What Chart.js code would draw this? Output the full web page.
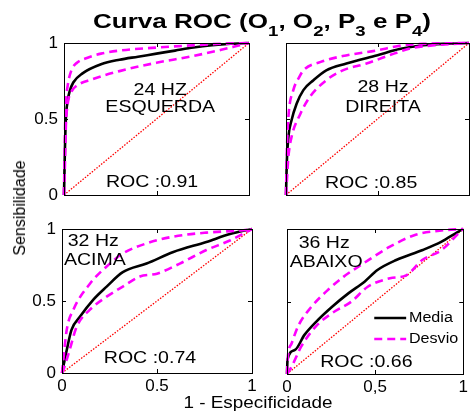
<!DOCTYPE html>
<html>
<head>
<meta charset="utf-8">
<script src="https://cdn.jsdelivr.net/npm/chart.js@4/dist/chart.umd.min.js"></script>
<style>
  body { margin: 0; background: #fff; width: 471px; height: 412px; position: relative; overflow: hidden;
         font-family: "Liberation Sans", Arial, sans-serif; color: #000; }
  canvas { position: absolute; left: 0; top: 0; }
  #titulo { position: absolute; left: 262px; top: 10px; line-height: 21px; font-size: 21px; font-weight: bold;
            white-space: nowrap; transform: translateX(-50%) scaleX(1.24); }
  #titulo sub { font-size: 15px; vertical-align: -8px; line-height: 0; }
  #eixoY { position: absolute; left: 20px; top: 208px; font-size: 16px; white-space: nowrap;
           transform: translate(-50%, -50%) rotate(-90deg); }
  #eixoX { position: absolute; left: 258px; top: 403px; font-size: 16px; white-space: nowrap;
           transform: translate(-50%, -50%) scaleX(1.18); }
</style>
</head>
<body>
<canvas id="g24" width="471" height="412"></canvas>
<canvas id="g28" width="471" height="412"></canvas>
<canvas id="g32" width="471" height="412"></canvas>
<canvas id="g36" width="471" height="412"></canvas>
<div id="titulo">Curva ROC (O<sub>1</sub>, O<sub>2</sub>, P<sub>3</sub> e P<sub>4</sub>)</div>
<div id="eixoY">Sensibilidade</div>
<div id="eixoX">1 - Especificidade</div>
<script>
// Curvas ROC: pares [1 - especificidade, sensibilidade]
const diagonal = [[0, 0], [1, 1]];
const ticksEixo = [0, 0.5, 1];
const auc = [0.91, 0.85, 0.74, 0.66];
const rotulos = [['24 HZ', 'ESQUERDA'], ['28 Hz', 'DIREITA'], ['32 Hz', 'ACIMA'], ['36 Hz', 'ABAIXO']];

// 24 Hz - esquerda
const media24 = [[0,0],[0.005,0.3],[0.01,0.5],[0.02,0.62],[0.03,0.68],[0.05,0.74],[0.1,0.8],[0.2,0.86],[0.3,0.89],[0.4,0.91],[0.5,0.93],[0.6,0.95],[0.7,0.97],[0.8,0.985],[0.9,0.995],[1,1]];
const sup24 = [[0,0],[0.005,0.4],[0.01,0.6],[0.02,0.72],[0.04,0.82],[0.07,0.87],[0.12,0.9],[0.2,0.93],[0.3,0.95],[0.5,0.97],[0.7,0.985],[0.85,0.995],[1,1]];
const inf24 = [[0,0],[0.005,0.2],[0.01,0.45],[0.02,0.6],[0.04,0.68],[0.07,0.72],[0.15,0.76],[0.3,0.815],[0.5,0.87],[0.7,0.915],[0.85,0.955],[0.95,0.985],[1,1]];

// 28 Hz - direita
const media28 = [[0,0],[0.004,0.2],[0.013,0.38],[0.03,0.49],[0.058,0.6],[0.095,0.69],[0.15,0.755],[0.22,0.82],[0.33,0.865],[0.5,0.92],[0.62,0.96],[0.75,0.985],[0.87,0.995],[1,1]];
const sup28 = [[0,0],[0.005,0.3],[0.013,0.51],[0.04,0.69],[0.07,0.77],[0.095,0.82],[0.19,0.876],[0.31,0.914],[0.49,0.95],[0.64,0.985],[0.77,0.995],[1,1]];
const inf28 = [[0,0],[0.005,0.1],[0.013,0.25],[0.03,0.38],[0.077,0.53],[0.13,0.645],[0.22,0.755],[0.31,0.82],[0.44,0.865],[0.59,0.93],[0.68,0.965],[0.81,0.985],[1,1]];

// 32 Hz - acima
const media32 = [[0,0],[0.025,0.16],[0.05,0.3],[0.094,0.39],[0.165,0.51],[0.235,0.6],[0.32,0.7],[0.445,0.76],[0.586,0.84],[0.76,0.91],[0.884,0.965],[1,1]];
const sup32 = [[0,0],[0.025,0.3],[0.06,0.44],[0.147,0.62],[0.235,0.74],[0.32,0.83],[0.445,0.9],[0.586,0.947],[0.76,0.975],[0.94,0.99],[1,1]];
const inf32 = [[0,0],[0.007,0.02],[0.04,0.16],[0.077,0.32],[0.147,0.44],[0.235,0.53],[0.32,0.6],[0.41,0.67],[0.5,0.69],[0.62,0.76],[0.76,0.854],[0.884,0.92],[1,1]];

// 36 Hz - abaixo
const media36 = [[0,0],[0.003,0.1],[0.044,0.165],[0.099,0.27],[0.165,0.36],[0.256,0.464],[0.348,0.556],[0.44,0.637],[0.513,0.717],[0.62,0.786],[0.77,0.855],[0.877,0.913],[0.97,0.98],[1,1]];
const sup36 = [[0,0],[0.005,0.12],[0.026,0.21],[0.063,0.33],[0.136,0.46],[0.228,0.575],[0.32,0.67],[0.43,0.76],[0.584,0.878],[0.73,0.96],[0.877,0.99],[1,1]];
const inf36 = [[0,0],[0.026,0.05],[0.081,0.19],[0.165,0.33],[0.256,0.42],[0.366,0.5],[0.456,0.6],[0.584,0.66],[0.676,0.68],[0.767,0.786],[0.877,0.855],[0.99,0.99],[1,1]];

const fonte = '"Liberation Sans", Arial, sans-serif';
const ponto = p => ({ x: p[0], y: p[1] });
const LARG_Y = 30, ALT_X = 24; // espaco reservado para os rotulos dos eixos

function escrever(ctx, t, px, py, align, size, sx) {
  ctx.save();
  ctx.translate(px, py);
  ctx.scale(sx, 1);
  ctx.font = size + 'px ' + fonte;
  ctx.fillStyle = '#000';
  ctx.textAlign = align;
  ctx.textBaseline = 'middle';
  ctx.fillText(t, 0, 0);
  ctx.restore();
}

// moldura estilo matlab + ticks internos + textos + legenda
const molduraPlugin = {
  id: 'moldura',
  afterDraw(chart, args, opts) {
    const ctx = chart.ctx;
    const a = chart.chartArea;
    const sx = chart.scales.x, sy = chart.scales.y;
    ctx.save();
    ctx.strokeStyle = '#000';
    ctx.lineWidth = 1;
    ctx.strokeRect(Math.round(a.left) + 0.5, Math.round(a.top) + 0.5, Math.round(a.right - a.left), Math.round(a.bottom - a.top));
    ctx.beginPath();
    sx.ticks.forEach(t => {
      const px = Math.round(sx.getPixelForValue(t.value)) + 0.5;
      ctx.moveTo(px, a.bottom); ctx.lineTo(px, a.bottom - 4);
      ctx.moveTo(px, a.top); ctx.lineTo(px, a.top + 4);
    });
    sy.ticks.forEach(t => {
      const py = Math.round(sy.getPixelForValue(t.value)) + 0.5;
      ctx.moveTo(a.left, py); ctx.lineTo(a.left + 4, py);
      ctx.moveTo(a.right, py); ctx.lineTo(a.right - 4, py);
    });
    ctx.stroke();
    ctx.restore();

    (opts.textos || []).forEach(o => {
      escrever(ctx, o.t, sx.getPixelForValue(o.x), sy.getPixelForValue(o.y), o.align || 'center', 17, 1.15);
    });

    const lg = opts.legenda;
    if (lg) {
      const ds = chart.data.datasets;
      [ds[2], ds[0]].forEach((d, i) => {
        const py = sy.getPixelForValue(lg.y[i]);
        ctx.save();
        ctx.strokeStyle = d.borderColor;
        ctx.lineWidth = d.borderWidth;
        ctx.setLineDash(d.borderDash || []);
        ctx.beginPath();
        ctx.moveTo(sx.getPixelForValue(lg.x0), py);
        ctx.lineTo(sx.getPixelForValue(lg.x1), py);
        ctx.stroke();
        ctx.restore();
        escrever(ctx, d.label, sx.getPixelForValue(lg.xt), py, 'left', 14, 1.15);
      });
    }
  }
};

function eixo(mostrar, virgula, ehX) {
  return {
    type: 'linear', min: 0, max: 1,
    afterBuildTicks: s => { s.ticks = ticksEixo.map(v => ({ value: v })); },
    ticks: {
      display: mostrar, padding: ehX ? 3 : 6, color: '#000', maxRotation: 0, autoSkip: false,
      font: { size: 17, family: fonte },
      callback: v => virgula ? String(v).replace('.', ',') : String(v)
    },
    grid: { display: false, drawTicks: false },
    border: { display: false },
    afterFit: s => {
      if (ehX) s.height = mostrar ? ALT_X : 0;
      else s.width = mostrar ? LARG_Y : 0;
    }
  };
}

// area do grafico em pixels: [esquerda, direita, topo, base]
function criarGrafico(id, media, sup, inf, cfg) {
  const [l, r, t, b] = cfg.area;
  const comum = { pointRadius: 0, fill: false, cubicInterpolationMode: 'monotone', clip: false };
  return new Chart(document.getElementById(id), {
    type: 'line',
    data: {
      datasets: [
        { ...comum, label: 'Desvio', data: sup.map(ponto), borderColor: '#ff00ff', borderWidth: 2.6, borderDash: [8, 5], order: 0 },
        { ...comum, label: 'Desvio', data: inf.map(ponto), borderColor: '#ff00ff', borderWidth: 2.6, borderDash: [8, 5], order: 0 },
        { ...comum, label: 'Media', data: media.map(ponto), borderColor: '#000', borderWidth: 2.6, order: 1 },
        { ...comum, label: 'Acaso', data: diagonal.map(ponto), borderColor: '#ff0000', borderWidth: 1.3, borderDash: [1.5, 1.5], order: 2 }
      ]
    },
    options: {
      responsive: false,
      animation: false,
      layout: {
        autoPadding: false,
        padding: {
          left: l - (cfg.mostrarY ? LARG_Y : 0),
          right: 471 - r,
          top: t,
          bottom: 412 - b - (cfg.mostrarX ? ALT_X : 0)
        }
      },
      scales: {
        x: eixo(cfg.mostrarX, cfg.virgula, true),
        y: eixo(cfg.mostrarY, false, false)
      },
      plugins: {
        legend: { display: false },
        tooltip: { enabled: false },
        moldura: { textos: cfg.textos, legenda: cfg.legenda }
      }
    },
    plugins: [molduraPlugin]
  });
}

const rocTxt = v => 'ROC :' + v.toFixed(2);

criarGrafico('g24', media24, sup24, inf24, {
  area: [64, 249, 43, 195],
  mostrarX: false, mostrarY: true,
  textos: [
    { t: rotulos[0][0], x: 0.52, y: 0.69 },
    { t: rotulos[0][1], x: 0.52, y: 0.575 },
    { t: rocTxt(auc[0]), x: 0.476, y: 0.085 }
  ]
});

criarGrafico('g28', media28, sup28, inf28, {
  area: [286, 469, 43, 195],
  mostrarX: false, mostrarY: false,
  textos: [
    { t: rotulos[1][0], x: 0.53, y: 0.71 },
    { t: rotulos[1][1], x: 0.53, y: 0.58 },
    { t: rocTxt(auc[1]), x: 0.465, y: 0.08 }
  ]
});

criarGrafico('g32', media32, sup32, inf32, {
  area: [62, 252, 229, 373],
  mostrarX: true, mostrarY: true,
  textos: [
    { t: rotulos[2][0], x: 0.03, y: 0.917, align: 'left' },
    { t: rotulos[2][1], x: 0.01, y: 0.785, align: 'left' },
    { t: rocTxt(auc[2]), x: 0.463, y: 0.104 }
  ]
});

criarGrafico('g36', media36, sup36, inf36, {
  area: [287, 469, 229, 374],
  mostrarX: true, mostrarY: false, virgula: true,
  textos: [
    { t: rotulos[3][0], x: 0.066, y: 0.9, align: 'left' },
    { t: rotulos[3][1], x: 0.016, y: 0.77, align: 'left' },
    { t: rocTxt(auc[3]), x: 0.45, y: 0.083 }
  ],
  legenda: { x0: 0.495, x1: 0.676, xt: 0.692, y: [0.386, 0.241] }
});
</script>
</body>
</html>
